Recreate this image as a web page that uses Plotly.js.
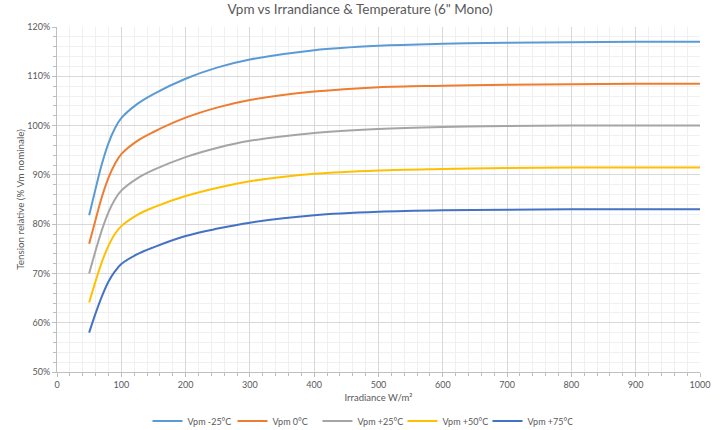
<!DOCTYPE html>
<html>
<head>
<meta charset="utf-8">
<script src="https://cdn.plot.ly/plotly-3.0.1.min.js"></script>
<style>
html,body{margin:0;padding:0;background:#fff;}
#chart{width:720px;height:430px;outline:1px solid #d9d9d9;outline-offset:-1px;}
</style>
</head>
<body>
<div id="chart"></div>
<script>
// Irradiance (W/m²)
const irradiance = [50, 60, 70, 80, 90, 100, 125, 150, 200, 250, 300, 400, 500, 600, 700, 800, 900, 1000];
// Relative voltage (% of nominal Vm)
const vpmMinus25 = [81.8, 87.2, 92.3, 96.4, 99.4, 101.5, 104.4, 106.4, 109.5, 111.8, 113.4, 115.3, 116.2, 116.6, 116.8, 116.9, 117.0, 117.0];
const vpm0       = [76.0, 80.9, 85.6, 89.4, 92.2, 94.2, 96.9, 98.7, 101.6, 103.7, 105.2, 106.9, 107.8, 108.1, 108.3, 108.4, 108.5, 108.5];
const vpmPlus25  = [70.0, 74.6, 78.9, 82.4, 85.0, 86.8, 89.3, 91.0, 93.6, 95.5, 96.9, 98.5, 99.3, 99.7, 99.9, 100.0, 100.0, 100.0];
const vpmPlus50  = [64.1, 68.4, 72.4, 75.6, 78.0, 79.6, 81.9, 83.4, 85.7, 87.4, 88.7, 90.2, 90.9, 91.2, 91.4, 91.5, 91.5, 91.5];
const vpmPlus75  = [58.0, 61.9, 65.4, 68.3, 70.4, 71.9, 73.9, 75.3, 77.6, 79.1, 80.3, 81.8, 82.5, 82.8, 82.9, 83.0, 83.0, 83.0];

const seriesNames = ["Vpm -25°C", "Vpm 0°C", "Vpm +25°C", "Vpm +50°C", "Vpm +75°C"];
const seriesValues = [vpmMinus25, vpm0, vpmPlus25, vpmPlus50, vpmPlus75];
const seriesColors = ["#5b9bd5", "#ed7d31", "#a5a5a5", "#ffc000", "#4472c4"];

const FONT = "Lato, 'Liberation Sans', sans-serif";
const TXT = "#595959";

const traces = seriesNames.map((n, i) => ({
  type: "scatter",
  mode: "lines",
  name: n,
  x: irradiance,
  y: seriesValues[i],
  line: {color: seriesColors[i], width: 2, shape: "spline", smoothing: 1},
  hoverinfo: "x+y+name"
}));

const layout = {
  width: 720,
  height: 430,
  paper_bgcolor: "#ffffff",
  plot_bgcolor: "#ffffff",
  margin: {l: 57, r: 20, t: 27, b: 58},
  font: {family: FONT, color: TXT, size: 9},
  title: {
    text: "Vpm vs Irrandiance & Temperature (6\" Mono)",
    font: {family: FONT, size: 13.5, color: TXT},
    x: 0.5, xanchor: "center",
    y: 1 - 9/430, yanchor: "middle", yref: "container"
  },
  xaxis: {
    range: [0, 1000],
    dtick: 100,
    tick0: 0,
    showgrid: true,
    gridcolor: "#d9d9d9",
    gridwidth: 1,
    zeroline: false,
    showline: true,
    linecolor: "#bfbfbf",
    ticks: "outside",
    ticklen: 4,
    tickcolor: "#bfbfbf",
    tickfont: {family: FONT, size: 9, color: TXT},
    minor: {dtick: 20, showgrid: true, gridcolor: "#f0f0f0", ticks: "outside", ticklen: 3, tickcolor: "#bfbfbf"},
    title: {text: "Irradiance W/m²", font: {family: FONT, size: 9.5, color: TXT}, standoff: 5},
    fixedrange: true
  },
  yaxis: {
    range: [50, 120],
    dtick: 10,
    tick0: 50,
    ticksuffix: "%",
    showgrid: true,
    gridcolor: "#d9d9d9",
    gridwidth: 1,
    zeroline: false,
    showline: true,
    linecolor: "#bfbfbf",
    ticks: "outside",
    ticklen: 4,
    tickcolor: "#bfbfbf",
    tickfont: {family: FONT, size: 9, color: TXT},
    minor: {dtick: 2, showgrid: true, gridcolor: "#f0f0f0", ticks: "outside", ticklen: 3, tickcolor: "#bfbfbf"},
    title: {text: "Tension relative (% Vm nominale)", font: {family: FONT, size: 9.8, color: TXT}, standoff: 0},
    fixedrange: true
  },
  showlegend: true,
  legend: {
    orientation: "h",
    xref: "container",
    yref: "container",
    x: 0.5, xanchor: "center",
    y: 1 - 421/430, yanchor: "middle",
    font: {family: FONT, size: 9, color: TXT},
    itemwidth: 30,
    entrywidth: 40,
    entrywidthmode: "pixels",
    bgcolor: "rgba(0,0,0,0)"
  }
};

Plotly.newPlot("chart", traces, layout, {displayModeBar: false, staticPlot: false});
</script>
</body>
</html>
